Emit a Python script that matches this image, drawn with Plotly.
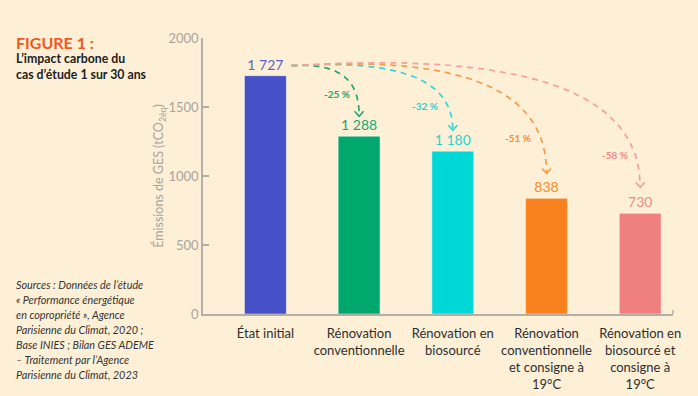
import plotly.graph_objects as go

# ---------------- data ----------------
categories = [
    "État initial",
    "Rénovation<br>conventionnelle",
    "Rénovation en<br>biosourcé",
    "Rénovation<br>conventionnelle<br>et consigne à<br>19°C",
    "Rénovation en<br>biosourcé et<br>consigne à<br>19°C",
]
values = [1727, 1288, 1180, 838, 730]
value_labels = ["1 727", "1 288", "1 180", "838", "730"]
pct_labels = ["-25 %", "-32 %", "-51 %", "-58 %"]
y_ticks = [0, 500, 1000, 1500, 2000]
source_lines = [
    "Sources : Données de l’étude",
    "« Performance énergétique",
    "en copropriété », Agence",
    "Parisienne du Climat, 2020 ;",
    "Base INIES ; Bilan GES ADEME",
    "– Traitement par l’Agence",
    "Parisienne du Climat, 2023",
]

bar_colors = ["#4651C8", "#00A86D", "#00D8D8", "#F9821E", "#F08080"]
text_colors = ["#5A62CC", "#12A870", "#1FD4D4", "#F98A2C", "#F08A8A"]
arrow_colors = ["#22A86F", "#33D6D6", "#F99A48", "#F3A0A0"]
pct_colors = ["#1FA56B", "#2BD0D0", "#F98A30", "#F08A8A"]

BG = "#FEF0D7"
AXIS = "#B3AEA6"
TICKTXT = "#A9A49C"

# ---------------- geometry helpers ----------------
W, H = 698, 396
L, R, T, B = 202.7, 672.7, 37.7, 314.5
XR = [-0.666, 4.35]
YR = [0, 2000]


def x2px(x):
    return L + (x - XR[0]) / (XR[1] - XR[0]) * (R - L)


def px2x(p):
    return XR[0] + (p - L) / (R - L) * (XR[1] - XR[0])


def y2px(v):
    return B - (v - YR[0]) / (YR[1] - YR[0]) * (B - T)


def px2y(p):
    return YR[0] + (B - p) / (B - T) * (YR[1] - YR[0])


def paper_x(p):
    return (p - L) / (R - L)


def paper_y(p):
    return (B - p) / (B - T)


idx = list(range(len(categories)))

fig = go.Figure()
fig.add_trace(go.Bar(
    x=idx, y=values, width=0.447,
    marker=dict(color=bar_colors, line=dict(color="rgba(255,255,255,0.45)", width=1)),
    text=value_labels, textposition="outside",
    textfont=dict(family="Lato", size=14, color=text_colors),
    cliponaxis=False, hoverinfo="skip", showlegend=False,
))

# ---------------- dashed arrows ----------------
sx = x2px(0) + 26
sy = y2px(values[0]) - 10
tip_gap = [20, 21, 25, 26]
for k in range(1, len(values)):
    ex = x2px(k)
    ey = y2px(values[k]) - tip_gap[k - 1]
    dx, dy = ex - sx, ey - sy
    p0 = (sx, sy)
    p1 = (sx + 0.7 * dx, sy - 0.045 * dx)
    p2 = (ex, sy + 0.25 * dy)
    p3 = (ex, ey - 1)
    xs, ys = [], []
    n = 60
    for i in range(n + 1):
        t = i / n
        a, b, c, d = (1 - t) ** 3, 3 * (1 - t) ** 2 * t, 3 * (1 - t) * t ** 2, t ** 3
        px_ = a * p0[0] + b * p1[0] + c * p2[0] + d * p3[0]
        py_ = a * p0[1] + b * p1[1] + c * p2[1] + d * p3[1]
        xs.append(px2x(px_))
        ys.append(px2y(py_))
    col = arrow_colors[k - 1]
    fig.add_trace(go.Scatter(
        x=xs, y=ys, mode="lines",
        line=dict(color=col, width=1.7, dash="6px,5px"),
        hoverinfo="skip", showlegend=False, cliponaxis=False,
    ))
    # chevron head
    fig.add_trace(go.Scatter(
        x=[px2x(ex - 4.5), px2x(ex), px2x(ex + 4.5)],
        y=[px2y(ey - 5), px2y(ey), px2y(ey - 5)],
        mode="lines", line=dict(color=col, width=1.6),
        hoverinfo="skip", showlegend=False, cliponaxis=False,
    ))

pct_offsets = [(-22, 22), (-28, 24), (-29, 36), (-25, 32)]
annotations = []
for k in range(1, len(values)):
    ex = x2px(k)
    ey = y2px(values[k]) - tip_gap[k - 1]
    ox, oy = pct_offsets[k - 1]
    annotations.append(dict(
        x=px2x(ex + ox), y=px2y(ey - oy), xref="x", yref="y",
        text="<b>" + pct_labels[k - 1] + "</b>", showarrow=False,
        font=dict(family="Lato", size=10, color=pct_colors[k - 1]),
        xanchor="center", yanchor="middle",
    ))

# ---------------- side texts ----------------
annotations.append(dict(
    x=paper_x(14), y=paper_y(42), xref="paper", yref="paper",
    text="<b>FIGURE 1 :</b>", showarrow=False, xanchor="left", yanchor="middle",
    font=dict(family="Lato", size=16, color="#F0581E"),
))
annotations.append(dict(
    x=paper_x(14), y=paper_y(49), xref="paper", yref="paper",
    text="<b>L’impact carbone du<br>cas d’étude 1 sur 30 ans</b>", showarrow=False,
    xanchor="left", yanchor="top", align="left",
    font=dict(family="Lato", size=12.3, color="#222222"),
))
for i, line in enumerate(source_lines):
    annotations.append(dict(
        x=paper_x(14), y=paper_y(285 + 15 * i), xref="paper", yref="paper",
        text="<i>" + line + "</i>", showarrow=False,
        xanchor="left", yanchor="middle", align="left",
        font=dict(family="Lato", size=10.8, color="#333333"),
    ))

shapes = [dict(
    type="line", xref="paper", yref="paper",
    x0=1, x1=1, y0=0, y1=paper_y(B - 4),
    line=dict(color=AXIS, width=1.5),
)]

fig.update_layout(
    width=W, height=H,
    margin=dict(l=L, r=W - R, t=T, b=H - B, pad=0),
    paper_bgcolor=BG, plot_bgcolor=BG,
    font=dict(family="Lato"),
    annotations=annotations,
    shapes=shapes,
    xaxis=dict(
        range=XR, tickvals=idx, ticktext=categories,
        showgrid=False, zeroline=False, showline=True,
        linecolor=AXIS, linewidth=1.5, ticks="",
        ticklabelstandoff=7,
        tickfont=dict(family="Lato", size=13, color="#2E2E2E"),
        fixedrange=True, automargin=False,
    ),
    yaxis=dict(
        range=YR, tickvals=y_ticks, showgrid=False, zeroline=False,
        showline=True, linecolor=AXIS, linewidth=1.5,
        ticks="inside", ticklen=6, tickcolor=AXIS, tickwidth=1.5,
        tickfont=dict(family="Lato", size=13, color=TICKTXT),
        title=dict(text="Émissions de GES (tCO<sub>2éq</sub>)", standoff=2,
                   font=dict(family="Lato", size=12.5, color=TICKTXT)),
        fixedrange=True, automargin=False,
    ),
)

fig.write_html(
    "out.html",
    config={"displayModeBar": False},
    post_script="document.body.style.margin='0px';document.body.style.background='" + BG + "';",
)
